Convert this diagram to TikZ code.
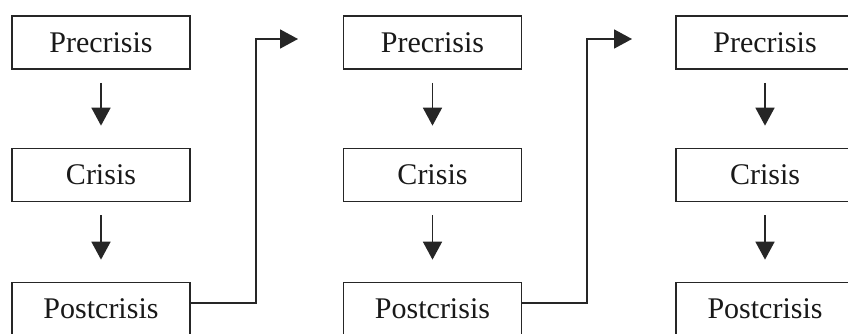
\documentclass[tikz,border=0pt]{standalone}
\usepackage{fontspec}
\setmainfont{Liberation Serif}
\usetikzlibrary{arrows.meta}
\begin{document}
\begin{tikzpicture}[x=1pt,y=-1pt,
  phase/.style={draw=black!85, line width=1.7pt, minimum width=178pt, minimum height=53pt,
    inner sep=0pt, font=\fontsize{30}{32}\selectfont, text=black!90},
  flow/.style={draw=black!85, line width=1.7pt,
    -{Triangle[width=19pt,length=18pt]}, shorten <=13pt, shorten >=22pt},
  link/.style={draw=black!85, line width=1.7pt, -{Triangle[width=19pt,length=18pt]}}]
\useasboundingbox (0,0) rectangle (848,334);
\fill[white] (0,0) rectangle (848,334);
% three identical columns
\foreach \c/\x in {a/101, b/432.5, c/765}{
  \node[phase] (\c1) at (\x,42.5) {Precrisis};
  \node[phase] (\c2) at (\x,175) {Crisis};
  \node[phase] (\c3) at (\x,309) {Postcrisis};
  \draw[flow] (\c1) -- (\c2);
  \draw[flow] (\c2) -- (\c3);
}
% return links between columns
\coordinate (t1) at (298,39);
\coordinate (t2) at (632,39);
\draw[link] ([yshift=6pt]a3.east) -| (256,39) -- (t1);
\draw[link] ([yshift=6pt]b3.east) -| (587,39) -- (t2);
\end{tikzpicture}
\end{document}
